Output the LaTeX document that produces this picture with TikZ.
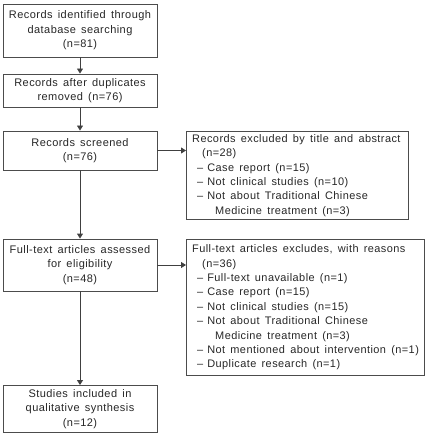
\documentclass[tikz,border=0pt]{standalone}
\usepackage{fontspec}
\setmainfont[LetterSpace=4,WordSpace=1.5]{Liberation Sans}
\usetikzlibrary{arrows.meta}
\begin{document}
\begin{tikzpicture}[x=1bp,y=-1bp,
  every node/.style={font=\fontsize{11bp}{14.4bp}\selectfont, text=black!85},
  box/.style={draw=black!70, line width=0.9bp, rectangle, inner sep=0pt, align=center},
  sidebox/.style={draw=black!70, line width=0.9bp, rectangle, inner sep=0pt, anchor=north west},
  sidetext/.style={inner sep=0pt, align=left, anchor=west, font=\fontsize{10.95bp}{14.4bp}\selectfont},
  arr/.style={draw=black!75, line width=0.9bp, -{Triangle[length=5bp,width=6bp]}}]
\useasboundingbox (0,0) rectangle (426,434);
\node[box, minimum width=154bp, minimum height=53bp] (b1) at (80,30.5)
  {Records identified through\\database searching\\(n=81)};
\node[box, minimum width=154bp, minimum height=33bp] (b2) at (80,90.5)
  {Records after duplicates\\removed (n=76)};
\node[box, minimum width=154bp, minimum height=39bp] (b3) at (80,150.5)
  {Records screened\\(n=76)};
\node[box, minimum width=154bp, minimum height=52bp] (b4) at (80,265)
  {Full-text articles assessed\\for eligibility\\(n=48)};
\node[box, minimum width=154bp, minimum height=47bp] (b5) at (80,409)
  {Studies included in\\qualitative synthesis\\(n=12)};
\node[sidebox, minimum width=222bp, minimum height=88bp] (r1) at (186,131) {};
\node[sidetext] (t1) at ([xshift=6bp]r1.west)
  {Records excluded by title and abstract\\
   \hspace*{10bp}(n=28)\\
   \hspace*{5bp}–\hspace*{4bp}Case report (n=15)\\
   \hspace*{5bp}–\hspace*{4bp}Not clinical studies (n=10)\\
   \hspace*{5bp}–\hspace*{4bp}Not about Traditional Chinese\\
   \hspace*{23bp}Medicine treatment (n=3)};
\node[sidebox, minimum width=238bp, minimum height=136bp] (r2) at (186,239) {};
\node[sidetext] (t2) at ([xshift=6bp]r2.west)
  {Full-text articles excludes, with reasons\\
   \hspace*{10bp}(n=36)\\
   \hspace*{5bp}–\hspace*{4bp}Full-text unavailable (n=1)\\
   \hspace*{5bp}–\hspace*{4bp}Case report (n=15)\\
   \hspace*{5bp}–\hspace*{4bp}Not clinical studies (n=15)\\
   \hspace*{5bp}–\hspace*{4bp}Not about Traditional Chinese\\
   \hspace*{23bp}Medicine treatment (n=3)\\
   \hspace*{5bp}–\hspace*{4bp}Not mentioned about intervention (n=1)\\
   \hspace*{5bp}–\hspace*{4bp}Duplicate research (n=1)};
\draw[arr] (b1) -- (b2);
\draw[arr] (b2) -- (b3);
\draw[arr] (b3) -- (b4);
\draw[arr] (b4) -- (b5);
\draw[arr] (b3.east) -- (b3.east -| r1.west);
\draw[arr] (b4.east) -- (b4.east -| r2.west);
\end{tikzpicture}
\end{document}
